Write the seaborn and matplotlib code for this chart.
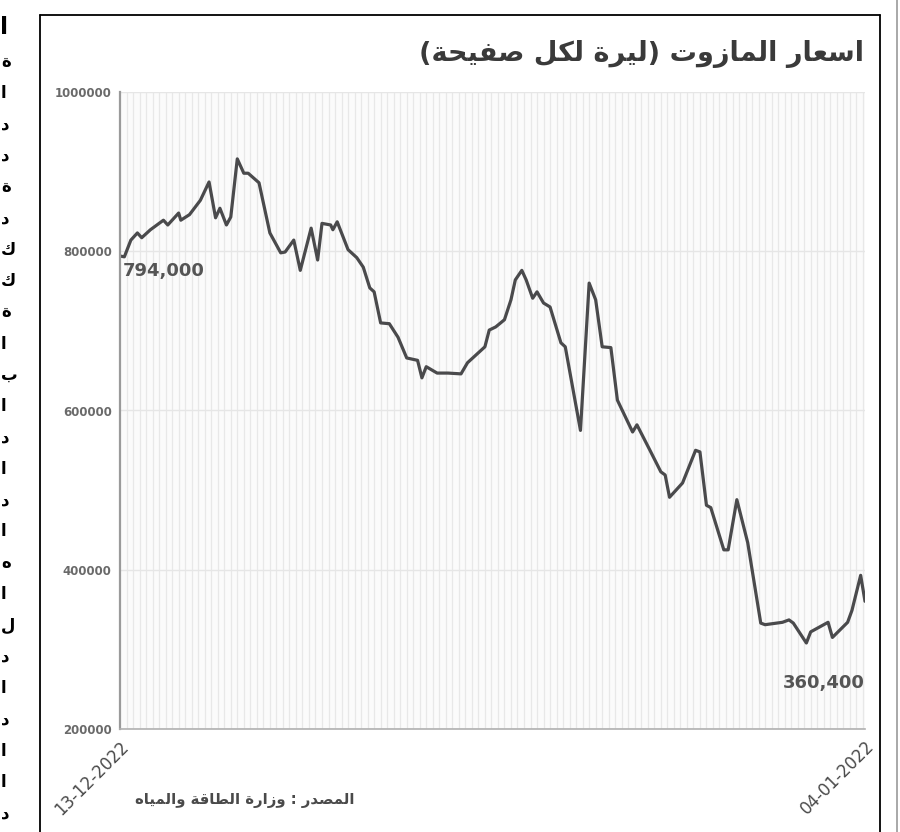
import matplotlib
matplotlib.use("Agg")
import matplotlib.pyplot as plt
import seaborn as sns
import pandas as pd
from matplotlib.lines import Line2D
from matplotlib.ticker import FixedLocator, MultipleLocator

# ---------------- data ----------------
# days counted back from 13-12-2022 (left edge) towards 04-01-2022 (right edge)
days = [0, 2, 5, 8, 10, 14, 20, 22, 27, 28, 32, 37, 41, 44, 46, 49, 51, 54, 57, 59,
        64, 69, 74, 76, 80, 83, 88, 91, 93, 97, 98, 100, 105, 109, 112, 115, 117, 120,
        124, 128, 132, 137, 139, 141, 146, 151, 157, 160, 164, 168, 170, 173, 177, 180,
        182, 185, 187, 190, 192, 195, 198, 203, 205, 212, 216, 219, 222, 226, 229, 236,
        238, 244, 249, 251, 253, 259, 265, 267, 270, 272, 278, 280, 284, 289, 295, 297,
        305, 308, 310, 316, 318, 326, 328, 335, 337, 341, 343]
prices = [794000, 793000, 814000, 823000, 817000, 827000, 839000, 833000, 848000, 839000,
          846000, 864000, 887000, 842000, 854000, 833000, 843000, 916000, 898000, 898000,
          886000, 823000, 798000, 799000, 814000, 776000, 829000, 789000, 835000, 833000,
          827000, 837000, 802000, 792000, 780000, 754000, 749000, 710000, 709000, 692000,
          666000, 663000, 641000, 655000, 647000, 647000, 646000, 660000, 670000, 680000,
          701000, 705000, 714000, 739000, 764000, 776000, 764000, 741000, 749000, 735000,
          730000, 685000, 680000, 575000, 760000, 739000, 680000, 679000, 613000, 573000,
          582000, 550000, 523000, 519000, 491000, 509000, 550000, 548000, 481000, 478000,
          425000, 425000, 488000, 434000, 333000, 331000, 334000, 337000, 333000, 308000,
          322000, 334000, 315000, 334000, 349000, 393000, 360400]
x_tick_positions = [0, 343]
x_tick_labels = ["13-12-2022", "04-01-2022"]
y_ticks = [200000, 400000, 600000, 800000, 1000000]
y_tick_labels = ["200000", "400000", "600000", "800000", "1000000"]
title_text = "اسعار المازوت (ليرة لكل صفيحة)"
source_text = "المصدر : وزارة الطاقة والمياه"
first_value_label = "794,000"
last_value_label = "360,400"
margin_chars = ["ة", "ا", "د", "د", "ة", "د", "ك", "ك", "ة", "ا", "ب", "ا", "د",
                "ا", "د", "ا", "ه", "ا", "ل", "د", "ا", "د", "ا", "ا", "د"]

# ---------------- minimal Arabic shaping for matplotlib ----------------
DUAL = {'ب': 0xFE8F, 'ت': 0xFE95, 'ث': 0xFE99, 'ج': 0xFE9D, 'ح': 0xFEA1, 'خ': 0xFEA5,
        'س': 0xFEB1, 'ش': 0xFEB5, 'ص': 0xFEB9, 'ض': 0xFEBD, 'ط': 0xFEC1, 'ظ': 0xFEC5,
        'ع': 0xFEC9, 'غ': 0xFECD, 'ف': 0xFED1, 'ق': 0xFED5, 'ك': 0xFED9, 'ل': 0xFEDD,
        'م': 0xFEE1, 'ن': 0xFEE5, 'ه': 0xFEE9, 'ي': 0xFEF1}
RIGHT = {'ا': 0xFE8D, 'أ': 0xFE83, 'إ': 0xFE87, 'آ': 0xFE81, 'ة': 0xFE93, 'د': 0xFEA9,
         'ذ': 0xFEAB, 'ر': 0xFEAD, 'ز': 0xFEAF, 'و': 0xFEED, 'ى': 0xFEEF}


def shape_word(s):
    out = []
    n = len(s)
    for i, c in enumerate(s):
        if c in DUAL or c in RIGHT:
            prev = s[i - 1] if i > 0 else ''
            nxt = s[i + 1] if i < n - 1 else ''
            pj = prev in DUAL
            nj = nxt in DUAL or nxt in RIGHT
            if c in DUAL:
                k = 3 if (pj and nj) else 1 if pj else 2 if nj else 0
                out.append(chr(DUAL[c] + k))
            else:
                out.append(chr(RIGHT[c] + (1 if pj else 0)))
        else:
            out.append(c)
    return ''.join(out)


def rtl(s):
    shaped = shape_word(s)
    vis = ''.join(reversed(shaped))
    return vis.translate(str.maketrans('()', ')('))


# ---------------- figure ----------------
sns.set_theme(style="white")
plt.rcParams['font.family'] = ['DejaVu Sans']

W, H = 900, 832
fig = plt.figure(figsize=(W / 100, H / 100), dpi=100)
fig.patch.set_facecolor("white")

ax = fig.add_axes([120 / W, 1 - 729 / H, 745 / W, 637 / H])
ax.set_facecolor("#fbfbfb")

df = pd.DataFrame({"day": days, "price": prices})
sns.lineplot(data=df, x="day", y="price", ax=ax, color="#4a4a4c", lw=2.3,
             estimator=None, sort=False)

ax.set_xlim(0, 343)
ax.set_ylim(200000, 1000000)
ax.set_xlabel("")
ax.set_ylabel("")

ax.yaxis.set_major_locator(FixedLocator(y_ticks))
ax.set_yticklabels(y_tick_labels, fontsize=8.5, fontweight="bold", color="#6a6a6a")
ax.tick_params(axis="y", direction="out", length=3, width=1, color="#888", pad=3)

ax.xaxis.set_major_locator(FixedLocator(x_tick_positions))
ax.set_xticklabels(x_tick_labels, fontsize=12, color="#4a4a4a", rotation=45,
                   ha="right", va="top", rotation_mode="anchor")
ax.tick_params(axis="x", which="major", length=0, pad=6)
ax.xaxis.set_minor_locator(MultipleLocator(3))
ax.tick_params(axis="x", which="minor", direction="inout", length=7, width=0.9,
               color="#a8a8a8")

ax.grid(False)
ax.xaxis.grid(True, which="minor", color="#e8e8e8", lw=0.9)
ax.yaxis.grid(True, which="major", color="#e6e6e6", lw=1)
ax.set_axisbelow(True)

for side in ["top", "right"]:
    ax.spines[side].set_visible(False)
ax.spines["left"].set_color("#9a9a9a")
ax.spines["left"].set_linewidth(1.6)
ax.spines["bottom"].set_color("#b0b0b0")
ax.spines["bottom"].set_linewidth(1.2)

# value annotations
ax.text(0.004, (729 - 276) / 637, first_value_label, transform=ax.transAxes,
        fontsize=13, fontweight="bold", color="#555555", ha="left", va="baseline")
ax.text(1.0, (729 - 688) / 637, last_value_label, transform=ax.transAxes,
        fontsize=13, fontweight="bold", color="#555555", ha="right", va="baseline")

# title and source
fig.text(864 / W, 1 - 54 / H, rtl(title_text), fontsize=19.5, fontweight="bold",
         color="#3a3a3a", ha="right", va="center")
fig.text(135 / W, 1 - 800 / H, rtl(source_text), fontsize=10.7, fontweight="bold",
         color="#4a4a4a", ha="left", va="center")

# frame around the graphic
frame_kw = dict(transform=fig.transFigure, color="black", lw=1.3)
fig.add_artist(Line2D([40 / W, 40 / W], [0, 1 - 15 / H], **frame_kw))
fig.add_artist(Line2D([40 / W, 880 / W], [1 - 15 / H, 1 - 15 / H], **frame_kw))
fig.add_artist(Line2D([880 / W, 880 / W], [0, 1 - 15 / H], **frame_kw))
fig.add_artist(Line2D([897 / W, 897 / W], [0, 1], transform=fig.transFigure,
                      color="#9a9a9a", lw=1.2))

# cut-off article text at the left margin
fig.text(0 / W, 1 - 27 / H, "ا", fontsize=17, fontweight="bold", color="black",
         ha="left", va="center")
for i, ch in enumerate(margin_chars):
    fig.text(1 / W, 1 - (62 + i * 31.3) / H, ch, fontsize=12, fontweight="bold",
             color="black", ha="left", va="center")

fig.savefig("out.png", dpi=100, facecolor="white")
